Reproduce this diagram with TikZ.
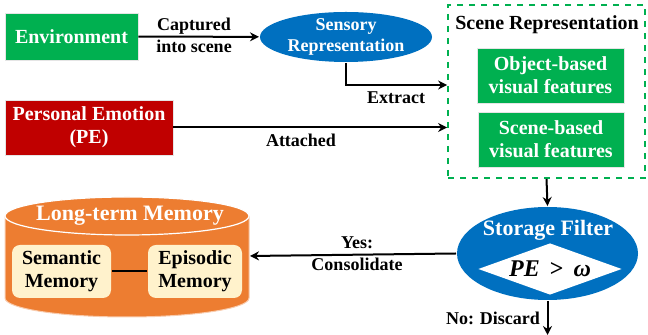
\documentclass[tikz,border=0pt]{standalone}
\usepackage{amsmath,amssymb}
\usepackage{fontspec}
\setmainfont{Liberation Serif}
\usetikzlibrary{arrows.meta, positioning, calc, shapes.geometric}
\definecolor{envgreen}{HTML}{00B050}
\definecolor{sensblue}{HTML}{0070C0}
\definecolor{emored}{HTML}{C00000}
\definecolor{ltmorange}{HTML}{ED7D31}
\definecolor{memcream}{HTML}{FFF2CC}
\definecolor{rimline}{HTML}{F8CBAD}

\tikzset{
  boxtext/.style={font=\fontsize{10}{11.5}\selectfont\bfseries, align=center},
  lbltext/.style={font=\fontsize{9}{11}\selectfont\bfseries, align=center, inner sep=0pt},
  greenbox/.style={boxtext, fill=envgreen, draw=white!80!gray, line width=0.4pt, text=white, inner sep=0pt},
  membox/.style={boxtext, fill=memcream, rounded corners=4pt, inner sep=0pt, minimum height=26.5pt},
}

\begin{document}
\begin{tikzpicture}[x=0.5pt, y=-0.5pt, line width=1pt, >={Stealth[length=4.5pt, width=4.5pt]}]

\useasboundingbox (0,0) rectangle (648,335);

% Inputs
\node[greenbox, minimum width=66.5pt, minimum height=23.5pt] (env) at (71.5,36.5) {Environment};
\node[boxtext, fill=emored, draw=white!80!gray, line width=0.4pt, text=white, inner sep=0pt,
  minimum width=84pt, minimum height=27.5pt] (pe) at (89,127.5) {Personal Emotion\\(PE)};

% Sensory representation
\node[ellipse, fill=sensblue, text=white, font=\fontsize{9}{10.5}\selectfont\bfseries, align=center,
  inner xsep=0pt, inner ysep=-2pt, minimum width=86pt, minimum height=25pt] (sensory) at (346,37) {Sensory\\Representation};

% Scene representation
\node[draw=envgreen, dashed, line width=0.9pt, minimum width=98.5pt, minimum height=86.5pt, inner sep=0pt] (scene) at (546.5,91.5) {};
\node[boxtext] (scenetitle) at (547,25) {Scene Representation};
\node[greenbox, minimum width=73.5pt, minimum height=27.5pt] (objfeat) at (550.5,75.5) {Object-based\\visual features};
\node[greenbox, minimum width=73pt, minimum height=27.5pt] (scnfeat) at (551,139.5) {Scene-based\\visual features};

% Storage filter
\node[ellipse, fill=sensblue, minimum width=90.5pt, minimum height=46.5pt, inner sep=0pt] (filter) at (547.5,253.5) {};
\node[boxtext, font=\fontsize{11}{12}\selectfont\bfseries, text=white] (filtertitle) at (548,230) {Storage Filter};
\node[diamond, fill=white, aspect=2.8, minimum width=72pt, minimum height=26pt, inner sep=0pt, font=\fontsize{12}{13}\selectfont\bfseries] (cond) at (550,269) {\textit{PE}\, >\, \textit{ω}};

% Long-term memory cylinder
\fill[ltmorange] (5,216) -- (5,298) arc[start angle=180, end angle=360, x radius=61pt, y radius=9.5pt] -- (249,216) -- cycle;
\draw[rimline, line width=0.5pt] (5,216) -- (5,298) arc[start angle=180, end angle=360, x radius=61pt, y radius=9.5pt] -- (249,216);
\draw[white, fill=ltmorange, line width=0.6pt] (127,216) ellipse (61pt and 9.5pt);
\node[boxtext, font=\fontsize{11}{12}\selectfont\bfseries, text=white] (ltmtitle) at (130,216) {Long-term Memory};
\coordinate (ltm) at (250,256);

\node[membox, minimum width=49.5pt] (semantic) at (61.5,271.5) {Semantic\\Memory};
\node[membox, minimum width=47pt] (episodic) at (195,271.5) {Episodic\\Memory};
\draw (semantic) -- (episodic);

% Connectors
\draw[->] (env) -- (sensory);
\node[lbltext] at (194,35) {Captured\\into scene};

\draw[->] (sensory.south) |- ([yshift=3.25pt]scene.west);
\node[lbltext] at (396,98) {Extract};

\draw[->] (pe) -- (pe -| scene.west);
\node[lbltext] at (301,140) {Attached};

\draw[->] (scene.south) -- (filter.north);

\draw[->] (filter.west) -- (ltm);
\node[lbltext] at (357,254) {Yes:\\Consolidate};

\coordinate (discard) at (547.5,335);
\draw[->] (filter.south) -- (discard);
\node[lbltext] at (493,318) {No: Discard};

\end{tikzpicture}
\end{document}
